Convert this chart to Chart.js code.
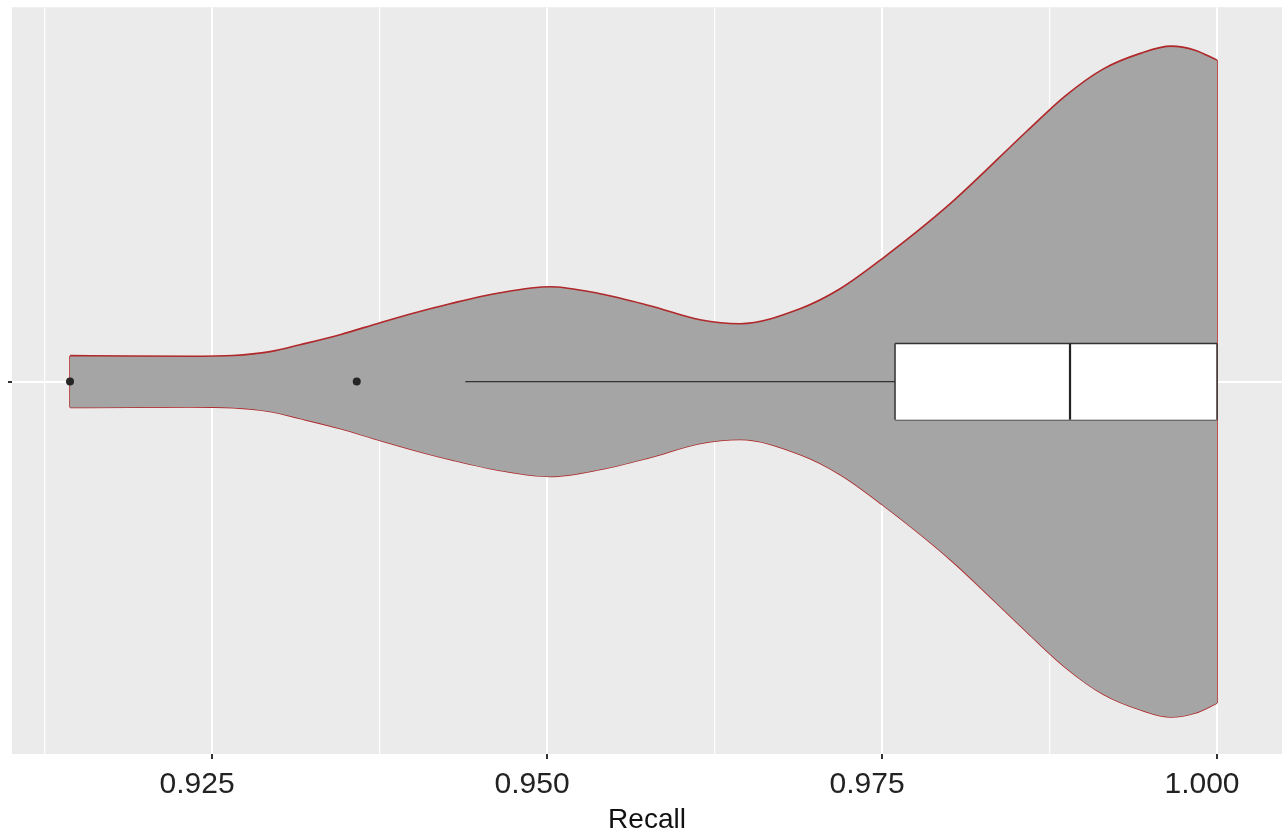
<!DOCTYPE html>
<html>
<head>
<meta charset="utf-8">
<script src="https://cdn.jsdelivr.net/npm/chart.js@4.4.1/dist/chart.umd.min.js"></script>
<style>
  html, body { margin: 0; padding: 0; background: #fff; }
  #wrap { width: 1286px; height: 838px; }
</style>
</head>
<body>
<div id="wrap"><canvas id="grafico"></canvas></div>
<script>
// Perfil do violino (Recall x meia-largura, em unidades do eixo y)
const violinoX = [0.91440, 0.91888, 0.92336, 0.92657, 0.92933, 0.93157, 0.93455, 0.93754, 0.94015,
  0.94276, 0.94649, 0.95022, 0.95396, 0.95769, 0.96142, 0.96440, 0.96888, 0.97187, 0.97500,
  0.98007, 0.98582, 0.98866, 0.99149, 0.99433, 0.99657, 0.99836, 1.00000];
const violinoLargura = [0.0695, 0.0685, 0.0680, 0.0700, 0.0802, 0.0989, 0.1257, 0.1578, 0.1845,
  0.2086, 0.2380, 0.2540, 0.2353, 0.2032, 0.1658, 0.1551, 0.1952, 0.2487, 0.3289,
  0.4759, 0.6711, 0.7647, 0.8369, 0.8797, 0.8984, 0.8877, 0.8610];

// Boxplot
const q1 = 0.97597;
const mediana = 0.98903;
const q3 = 1.0000;
const bigodeInferior = 0.9439;
const outliers = [0.9144, 0.9358];
const alturaCaixa = 0.102;

// Eixos
const linhasGrade = [0.9125, 0.925, 0.9375, 0.95, 0.9625, 0.975, 0.9875, 1.0];
const valoresTicks = [0.925, 0.95, 0.975, 1.0];
const rotulosTicks = ['0.925', '0.950', '0.975', '1.000'];

const superior = violinoX.map((x, i) => ({ x: x, y: violinoLargura[i] }));
const inferior = violinoX.map((x, i) => ({ x: x, y: -violinoLargura[i] }));
const n = violinoX.length - 1;

const vermelho = '#B0282A';
const escuro = '#333333';

function linha(pontos, cor, largura, extra) {
    return Object.assign({
        data: pontos,
        showLine: true,
        borderColor: cor,
        borderWidth: largura,
        pointRadius: 0,
        fill: false,
        tension: 0
    }, extra || {});
}

const fundoPainel = {
    id: 'fundoPainel',
    beforeDraw(chart) {
        const { ctx, chartArea } = chart;
        ctx.save();
        ctx.fillStyle = '#EBEBEB';
        ctx.fillRect(chartArea.left, chartArea.top, chartArea.right - chartArea.left, chartArea.bottom - chartArea.top);
        ctx.restore();
    }
};

new Chart(document.getElementById('grafico'), {
    type: 'scatter',
    data: {
        datasets: [
            // violino
            linha(superior, vermelho, 1.6, { fill: '+1', backgroundColor: '#A4A5A4', cubicInterpolationMode: 'monotone', order: 10 }),
            linha(inferior, vermelho, 1.6, { cubicInterpolationMode: 'monotone', order: 10 }),
            linha([{ x: violinoX[0], y: -violinoLargura[0] }, { x: violinoX[0], y: violinoLargura[0] }], vermelho, 1.6, { order: 10 }),
            linha([{ x: violinoX[n], y: -violinoLargura[n] }, { x: violinoX[n], y: violinoLargura[n] }], vermelho, 1.6, { order: 10 }),
            // bigode
            linha([{ x: bigodeInferior, y: 0 }, { x: q1, y: 0 }], escuro, 1.2, { order: 6 }),
            // caixa
            linha([{ x: q1, y: alturaCaixa }, { x: q3, y: alturaCaixa }], escuro, 1.5, { fill: '+1', backgroundColor: '#FFFFFF', order: 5 }),
            linha([{ x: q1, y: -alturaCaixa }, { x: q3, y: -alturaCaixa }], escuro, 1.5, { order: 5 }),
            linha([{ x: q1, y: -alturaCaixa }, { x: q1, y: alturaCaixa }], escuro, 1.5, { order: 4 }),
            linha([{ x: q3, y: -alturaCaixa }, { x: q3, y: alturaCaixa }], escuro, 1.5, { order: 4 }),
            linha([{ x: mediana, y: -alturaCaixa }, { x: mediana, y: alturaCaixa }], '#222222', 2.2, { order: 3 }),
            // outliers
            {
                data: outliers.map(v => ({ x: v, y: 0 })),
                pointRadius: 4,
                pointBackgroundColor: '#262626',
                pointBorderWidth: 0,
                order: 1
            }
        ]
    },
    options: {
        responsive: true,
        maintainAspectRatio: false,
        animation: false,
        layout: { padding: { top: 6, right: 4, left: 0, bottom: 0 } },
        plugins: {
            legend: { display: false },
            tooltip: { enabled: false }
        },
        scales: {
            x: {
                type: 'linear',
                min: 0.91007,
                max: 1.00485,
                border: { display: false },
                afterBuildTicks: (scale) => { scale.ticks = linhasGrade.map(v => ({ value: v })); },
                afterFit: (scale) => { scale.height = 84; },
                grid: {
                    color: '#FFFFFF',
                    lineWidth: (c) => valoresTicks.includes(c.tick.value) ? 2 : 1.2,
                    tickColor: (c) => valoresTicks.includes(c.tick.value) ? escuro : 'rgba(0,0,0,0)',
                    tickLength: 5,
                    drawTicks: true
                },
                ticks: {
                    autoSkip: false,
                    maxRotation: 0,
                    padding: 8,
                    labelOffset: -15,
                    color: '#222222',
                    font: { family: 'Liberation Sans, Arial, sans-serif', size: 30 },
                    callback: (v) => {
                        const i = valoresTicks.indexOf(v);
                        return i >= 0 ? rotulosTicks[i] : '';
                    }
                },
                title: {
                    display: true,
                    text: 'Recall',
                    color: '#111111',
                    font: { family: 'Liberation Sans, Arial, sans-serif', size: 28 },
                    padding: { top: 0, bottom: 1 }
                }
            },
            y: {
                type: 'linear',
                min: -0.9973,
                max: 1.0027,
                border: { display: false },
                afterBuildTicks: (scale) => { scale.ticks = [{ value: 0 }]; },
                afterFit: (scale) => { scale.width = 12; },
                grid: {
                    color: '#FFFFFF',
                    lineWidth: 2,
                    tickColor: escuro,
                    tickLength: 4
                },
                ticks: { display: true, callback: () => '', padding: 0 }
            }
        }
    },
    plugins: [fundoPainel]
});
</script>
</body>
</html>
